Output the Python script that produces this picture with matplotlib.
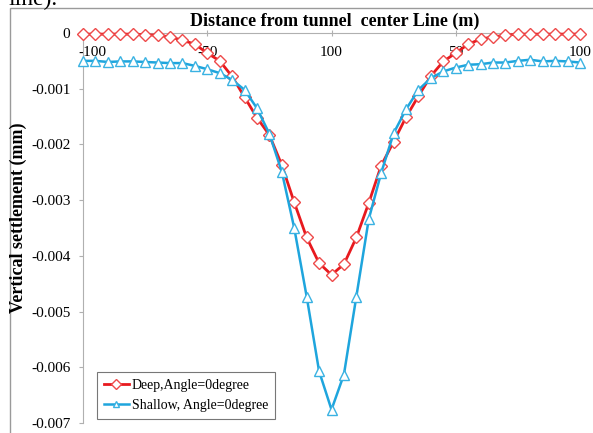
import matplotlib
matplotlib.use("Agg")
import matplotlib.pyplot as plt
from matplotlib.patches import Rectangle
from matplotlib.transforms import ScaledTranslation

# ---- data ----
distance = list(range(-100, 101, 5))
deep = [-0.00002, -0.00002, -0.00002, -0.00002, -0.00002, -0.00003, -0.00004, -0.00007,
        -0.00013, -0.00020, -0.00036, -0.00050, -0.00078, -0.00115, -0.00152, -0.00183,
        -0.00237, -0.00304, -0.00367, -0.00413, -0.00434, -0.00415, -0.00367, -0.00305,
        -0.00238, -0.00195, -0.00151, -0.00113, -0.00077, -0.00051, -0.00036, -0.00020,
        -0.00011, -0.00007, -0.00004, -0.00002, -0.00002, -0.00002, -0.00002, -0.00002,
        -0.00002]
shallow = [-0.00050, -0.00050, -0.00052, -0.00051, -0.00051, -0.00052, -0.00053, -0.00054,
           -0.00054, -0.00059, -0.00065, -0.00072, -0.00084, -0.00102, -0.00135, -0.00181,
           -0.00249, -0.00350, -0.00473, -0.00607, -0.00676, -0.00613, -0.00473, -0.00334,
           -0.00251, -0.00180, -0.00137, -0.00102, -0.00081, -0.00069, -0.00062, -0.00057,
           -0.00056, -0.00053, -0.00053, -0.00050, -0.00048, -0.00051, -0.00050, -0.00051,
           -0.00053]
xticks = [-100, -50, 0, 50, 100]
xtick_labels = ["-100", "-50", "100", "50", "100"]
yticks = [0, -0.001, -0.002, -0.003, -0.004, -0.005, -0.006, -0.007]
ytick_labels = ["0", "-0.001", "-0.002", "-0.003", "-0.004", "-0.005", "-0.006", "-0.007"]
series_labels = ["Deep,Angle=0degree", "Shallow, Angle=0degree"]

plt.rcParams["font.family"] = ["Liberation Serif", "DejaVu Serif"]

W, H = 593, 433
fig = plt.figure(figsize=(W / 100, H / 100), dpi=100)

# outer chart border
fig.patches.append(Rectangle((10 / W, -0.1), 1.2, 1 - 8 / H + 0.1, transform=fig.transFigure,
                             fill=False, edgecolor="#9a9a9a", linewidth=1.0))
# clipped document text at top
fig.text(8 / W, 1 - 5 / H, "line).", fontsize=17, ha="left", va="baseline")

ax = fig.add_axes([83 / W, 1 - 423 / H, (580 - 83) / W, (423 - 33) / H])
ax.set_facecolor("none")

red = "#e8191e"
blue = "#1ea5dd"
ax.plot(distance, deep, color=red, lw=2.0, marker="D", ms=6.5, mfc="white",
        mec="#ee4a4a", mew=1.0, label=series_labels[0], clip_on=False, zorder=3)
ax.plot(distance, shallow, color=blue, lw=1.8, marker="^", ms=7, mfc="white",
        mec="#3ab2e2", mew=1.0, label=series_labels[1], clip_on=False, zorder=3)

ax.set_xlim(-100, 100)
ax.set_ylim(-0.007, 0)

for s in ["right", "bottom"]:
    ax.spines[s].set_visible(False)
ax.spines["left"].set_color("#b0b0b0")
ax.spines["top"].set_color("#b0b0b0")

ax.set_yticks(yticks)
ax.set_yticklabels(ytick_labels)
ax.tick_params(axis="y", direction="out", length=3, color="#b0b0b0", labelsize=11, pad=6)

ax.xaxis.set_ticks_position("top")
ax.set_xticks(xticks)
ax.set_xticklabels(xtick_labels)
ax.tick_params(axis="x", direction="inout", length=5, color="#b0b0b0", labelsize=11,
               top=True, bottom=False, labeltop=True, labelbottom=False, pad=-21)
ax.get_xticklabels()[0].set_transform(
    ax.get_xticklabels()[0].get_transform() + ScaledTranslation(9 / 100, 0, fig.dpi_scale_trans))

fig.text(335 / W, 1 - 21 / H, "Distance from tunnel  center Line (m)", fontsize=13,
         fontweight="bold", ha="center", va="center")
fig.text(18 / W, 1 - 218 / H, "Vertical settlement (mm)", fontsize=13, fontweight="bold",
         rotation=90, ha="center", va="center")

leg = ax.legend(loc="upper left", bbox_to_anchor=(97 / W, 1 - 372 / H), bbox_transform=fig.transFigure,
                fontsize=10, frameon=True, fancybox=False, handlelength=1.8, handletextpad=0.2,
                borderpad=0.5, labelspacing=0.5, borderaxespad=0)
leg.get_frame().set_edgecolor("#555555")
leg.get_frame().set_linewidth(0.8)
for h in leg.legend_handles:
    h.set_markersize(5)

fig.savefig("out.png", dpi=100)
